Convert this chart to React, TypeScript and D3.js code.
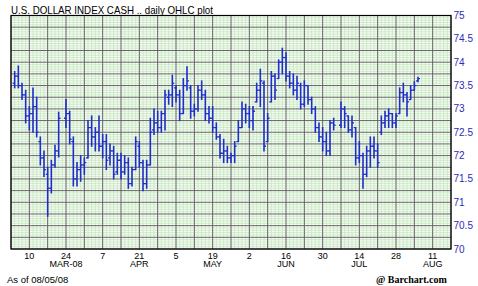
import React from "react";
import * as d3 from "d3";

const TITLE = "U.S. DOLLAR INDEX CASH .. daily OHLC plot";

const dates = [
  "2008-03-04","2008-03-05","2008-03-06","2008-03-07",
  "2008-03-10","2008-03-11","2008-03-12","2008-03-13","2008-03-14",
  "2008-03-17","2008-03-18","2008-03-19","2008-03-20",
  "2008-03-24","2008-03-25","2008-03-26","2008-03-27","2008-03-28",
  "2008-03-31","2008-04-01","2008-04-02","2008-04-03","2008-04-04",
  "2008-04-07","2008-04-08","2008-04-09","2008-04-10","2008-04-11",
  "2008-04-14","2008-04-15","2008-04-16","2008-04-17","2008-04-18",
  "2008-04-21","2008-04-22","2008-04-23","2008-04-24","2008-04-25",
  "2008-04-28","2008-04-29","2008-04-30","2008-05-01","2008-05-02",
  "2008-05-05","2008-05-06","2008-05-07","2008-05-08","2008-05-09",
  "2008-05-12","2008-05-13","2008-05-14","2008-05-15","2008-05-16",
  "2008-05-19","2008-05-20","2008-05-21","2008-05-22","2008-05-23",
  "2008-05-26","2008-05-27","2008-05-28","2008-05-29","2008-05-30",
  "2008-06-02","2008-06-03","2008-06-04","2008-06-05","2008-06-06",
  "2008-06-09","2008-06-10","2008-06-11","2008-06-12","2008-06-13",
  "2008-06-16","2008-06-17","2008-06-18","2008-06-19","2008-06-20",
  "2008-06-23","2008-06-24","2008-06-25","2008-06-26","2008-06-27",
  "2008-06-30","2008-07-01","2008-07-02","2008-07-03",
  "2008-07-07","2008-07-08","2008-07-09","2008-07-10","2008-07-11",
  "2008-07-14","2008-07-15","2008-07-16","2008-07-17","2008-07-18",
  "2008-07-21","2008-07-22","2008-07-23","2008-07-24","2008-07-25",
  "2008-07-28","2008-07-29","2008-07-30","2008-07-31","2008-08-01",
  "2008-08-04","2008-08-05",
];

const opens = [
  73.55,73.70,73.50,73.30,
  72.85,72.90,73.05,72.30,71.95,
  71.60,71.30,71.80,72.10,
  72.80,72.90,72.30,71.50,71.70,
  71.80,71.95,72.60,72.40,72.50,
  72.20,72.30,71.95,72.10,71.65,
  71.90,71.65,71.85,71.40,71.70,
  72.20,71.85,71.40,71.80,72.55,
  72.70,72.60,72.90,73.25,73.30,
  73.45,73.30,72.90,73.50,73.45,
  72.95,73.00,73.40,73.30,72.90,
  72.80,72.60,72.40,72.05,72.10,
  71.95,72.00,72.30,72.60,73.00,
  72.90,72.75,73.15,73.40,73.55,
  72.30,73.15,73.70,73.65,74.00,
  74.10,73.70,73.55,73.40,73.50,
  73.10,73.50,73.20,73.00,72.60,
  72.40,72.30,72.10,72.70,
  72.65,73.00,72.85,72.55,72.60,
  71.95,72.00,71.60,72.10,72.20,
  72.10,72.50,72.70,72.85,72.90,
  72.70,72.90,73.35,73.30,73.20,
  73.40,73.60,
];

const highs = [
  73.80,73.92,73.55,73.40,
  73.05,73.45,73.25,72.40,72.10,
  71.75,71.90,72.22,72.93,
  73.20,72.95,72.40,71.85,72.00,
  71.95,72.75,72.85,72.60,72.85,
  72.45,72.45,72.25,72.20,72.05,
  72.05,72.00,71.95,71.75,72.40,
  72.30,71.90,71.90,72.80,73.00,
  72.95,72.95,73.40,73.40,73.72,
  73.50,73.40,73.65,73.90,73.50,
  73.10,73.50,73.60,73.40,73.05,
  73.05,72.70,72.45,72.35,72.20,
  72.05,72.30,72.75,73.15,73.10,
  73.05,73.05,73.55,73.85,73.60,
  72.90,73.80,73.75,74.05,74.30,
  74.20,73.80,73.75,73.70,73.55,
  73.60,73.50,73.25,73.05,72.70,
  72.60,72.50,72.75,72.80,
  73.15,73.05,72.85,72.85,72.60,
  72.30,72.05,72.20,72.40,72.40,
  72.25,72.85,72.95,73.00,72.90,
  72.90,73.45,73.55,73.35,73.50,
  73.58,73.68,
];

const lows = [
  73.45,73.45,73.20,72.70,
  72.55,72.50,72.40,71.80,71.55,
  70.70,71.20,71.75,71.97,
  72.60,72.25,71.35,71.35,71.45,
  71.60,71.95,72.20,72.10,72.10,
  71.95,71.70,71.80,71.50,71.60,
  71.50,71.60,71.30,71.35,71.70,
  71.75,71.25,71.30,71.80,72.45,
  72.50,72.50,72.55,73.10,73.05,
  73.15,72.75,72.90,73.40,72.80,
  72.85,72.95,73.20,72.75,72.70,
  72.50,72.35,71.95,71.85,71.85,
  71.85,71.85,72.30,72.60,72.70,
  72.60,72.55,73.15,73.05,72.10,
  72.30,73.15,73.20,73.65,73.75,
  73.60,73.45,73.30,73.20,73.00,
  73.05,73.10,72.90,72.50,72.30,
  72.10,72.00,72.00,72.55,
  72.60,72.60,72.50,72.40,71.80,
  71.85,71.30,71.55,71.75,71.95,
  71.75,72.45,72.60,72.60,72.60,
  72.60,72.90,73.15,72.85,73.20,
  73.40,73.58,
];

const closes = [
  73.70,73.50,73.30,72.85,
  72.90,73.05,72.50,71.95,71.70,
  71.30,71.80,72.10,72.80,
  72.90,72.35,71.50,71.70,71.80,
  71.85,72.60,72.40,72.50,72.20,
  72.30,71.90,72.10,71.60,71.90,
  71.65,71.85,71.40,71.70,72.30,
  71.85,71.40,71.80,72.50,72.70,
  72.60,72.90,73.30,73.30,73.55,
  73.30,72.90,73.50,73.60,72.95,
  73.00,73.40,73.30,72.90,72.80,
  72.60,72.40,72.05,72.10,71.95,
  72.00,72.20,72.60,73.00,72.90,
  72.75,72.95,73.40,73.60,72.20,
  72.80,73.70,73.40,74.00,74.10,
  73.70,73.55,73.40,73.55,73.10,
  73.50,73.20,73.00,72.60,72.40,
  72.30,72.10,72.70,72.65,
  73.00,72.90,72.55,72.70,71.95,
  72.00,71.60,72.10,72.20,72.10,
  71.85,72.70,72.85,72.90,72.70,
  72.85,73.35,73.30,73.15,73.40,
  73.50,73.65,
];

const yTicks = [70, 70.5, 71, 71.5, 72, 72.5, 73, 73.5, 74, 74.5, 75];
const yTickLabels = ["70", "70.5", "71", "71.5", "72", "72.5", "73", "73.5", "74", "74.5", "75"];
const xTickDates = [
  "2008-03-10","2008-03-24","2008-04-07","2008-04-21","2008-05-05","2008-05-19",
  "2008-06-02","2008-06-16","2008-06-30","2008-07-14","2008-07-28","2008-08-11",
];
const xTickLabels = ["10","24","7","21","5","19","2","16","30","14","28","11"];
const xMonthLabels = ["","MAR-08","","APR","","MAY","","JUN","","JUL","","AUG"];

const START = new Date("2008-03-03T00:00:00Z");
const dayIndex = (s: string) => {
  const d = new Date(s + "T00:00:00Z");
  const days = Math.round((d.getTime() - START.getTime()) / 864e5);
  return Math.floor(days / 7) * 5 + (days % 7);
};

const W = 478, H = 286;
const L = 11, R = 451, T = 15.5, B = 249;

export default function App() {
  const x = d3.scaleLinear().domain([0, 120]).range([L, R]);
  const y = d3.scaleLinear().domain([70, 75]).range([B, T]);

  const minorV = d3.range(0, 121).filter((i) => i % 5 !== 0);
  const majorV = d3.range(0, 121, 5);
  const minorH = d3.range(0, 101).map((k) => 70 + k * 0.05).filter((_, k) => k % 5 !== 0);
  const majorH = d3.range(0, 21).map((k) => 70 + k * 0.25);

  const bars = dates.map((s, i) => ({
    xi: x(dayIndex(s)),
    o: y(opens[i]), h: y(highs[i]), l: y(lows[i]), c: y(closes[i]),
  }));

  const blue = "#1e2ec8";
  const font = "'Liberation Sans', Arial, sans-serif";

  return (
    <svg width={W} height={H} style={{ position: "absolute", left: 0, top: 0, background: "#fff" }}>
      <text x={L} y={13.5} fontFamily={font} fontSize={10.5} fill="#000" textLength={202} lengthAdjust="spacingAndGlyphs">{TITLE}</text>
      <rect x={L} y={T} width={R - L} height={B - T} fill="#f8fcf6" />
      <g stroke="#c4e6bf" strokeWidth={0.8}>
        {minorV.map((i) => (
          <line key={"mv" + i} x1={x(i)} x2={x(i)} y1={T} y2={B} />
        ))}
        {minorH.map((v, k) => (
          <line key={"mh" + k} x1={L} x2={R} y1={y(v)} y2={y(v)} />
        ))}
      </g>
      <g stroke="#555" strokeWidth={0.9}>
        {majorV.map((i) => (
          <line key={"Mv" + i} x1={x(i)} x2={x(i)} y1={T} y2={B} />
        ))}
        {majorH.map((v, k) => (
          <line key={"Mh" + k} x1={L} x2={R} y1={y(v)} y2={y(v)} />
        ))}
      </g>
      <rect x={L} y={T} width={R - L} height={B - T} fill="none" stroke="#000" strokeWidth={1.2} />
      <g stroke={blue} strokeWidth={1.6} fill="none">
        {bars.map((b, i) => (
          <g key={"b" + i}>
            <line x1={b.xi} x2={b.xi} y1={b.h - 0.5} y2={b.l + 0.5} />
            <line x1={b.xi - 2} x2={b.xi} y1={b.o} y2={b.o} strokeWidth={1.3} />
            <line x1={b.xi} x2={b.xi + 2} y1={b.c} y2={b.c} strokeWidth={1.3} />
          </g>
        ))}
      </g>
      <g fontFamily={font} fontSize={10} fill="#2b2bb8">
        {yTicks.map((v, k) => (
          <text key={"yt" + k} x={R + 2.5} y={y(v) + 3.5}>{yTickLabels[k]}</text>
        ))}
      </g>
      <g fontFamily={font} fontSize={9} fill="#000" textAnchor="middle">
        {xTickDates.map((s, k) => (
          <text key={"xt" + k} x={x(dayIndex(s))} y={258.5}>{xTickLabels[k]}</text>
        ))}
        {xTickDates.map((s, k) =>
          xMonthLabels[k] ? (
            <text key={"xm" + k} x={x(dayIndex(s))} y={267.2}>{xMonthLabels[k]}</text>
          ) : null
        )}
      </g>
      <text x={7} y={282.5} fontFamily={font} fontSize={9.5} fill="#000">As of 08/05/08</text>
      <text x={376} y={283} fontFamily="'Liberation Serif', 'DejaVu Serif', serif" fontWeight="bold" fontSize={10} fill="#000">@ Barchart.com</text>
    </svg>
  );
}
